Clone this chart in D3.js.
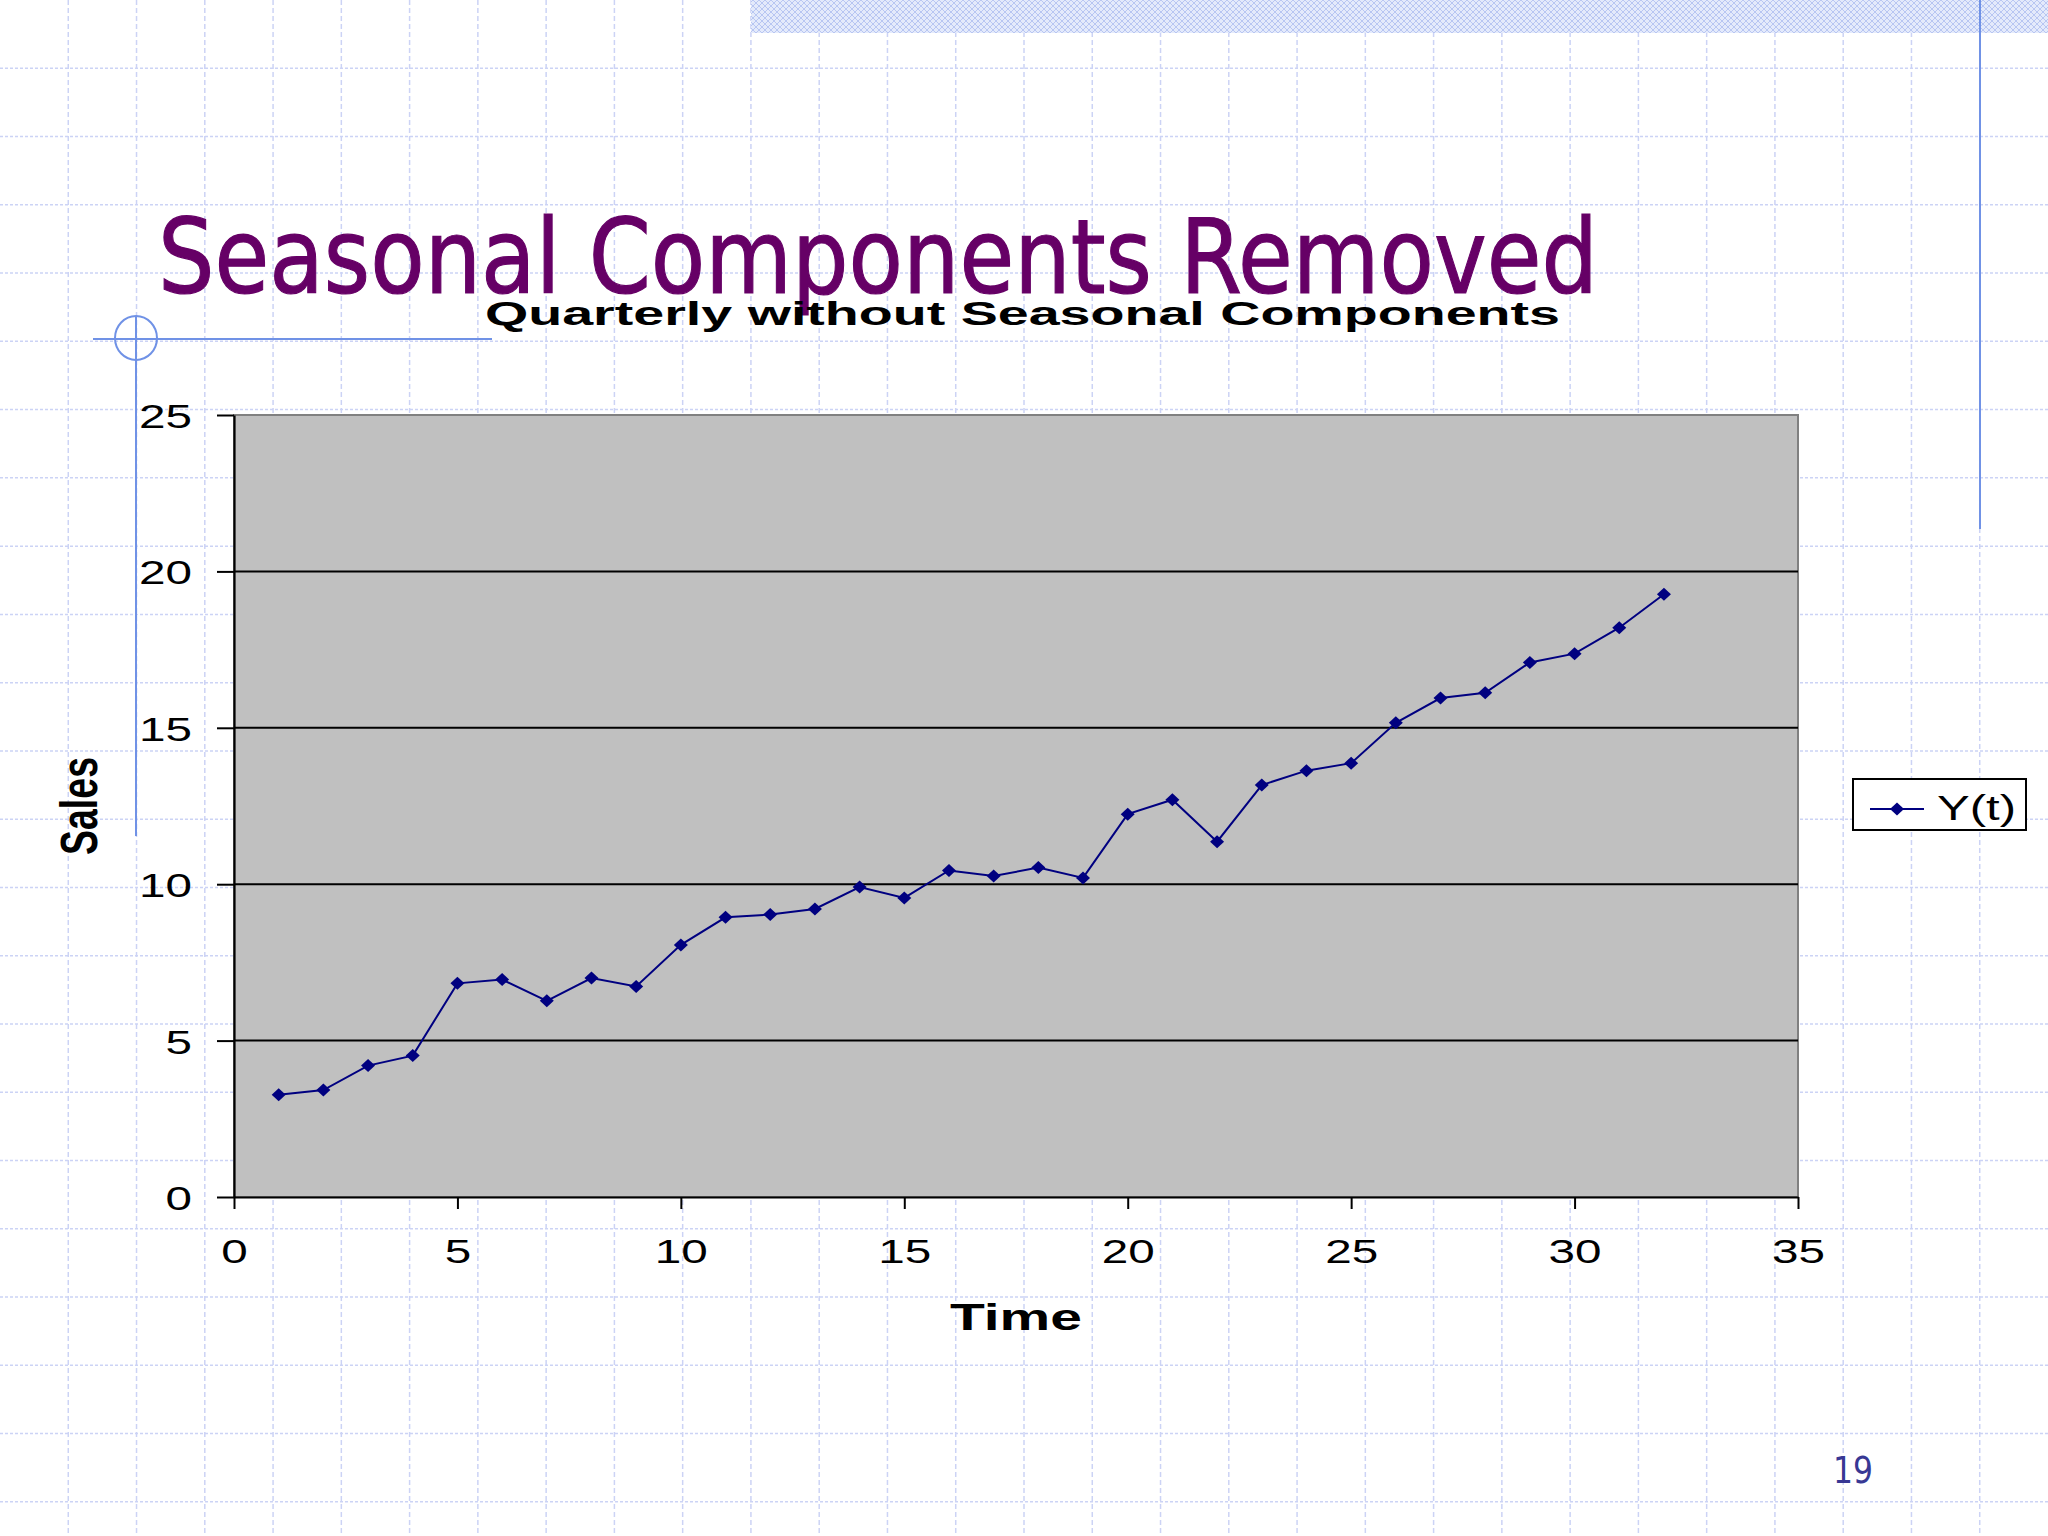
<!DOCTYPE html>
<html>
<head>
<meta charset="utf-8">
<script src="https://cdn.jsdelivr.net/npm/d3@7"></script>
<style>
  html, body { margin: 0; padding: 0; background: #ffffff; }
  svg { display: block; }
</style>
</head>
<body>
<svg id="chart" width="2048" height="1536"></svg>
<script>
// ---------- data ----------
const times = [1,2,3,4,5,6,7,8,9,10,11,12,13,14,15,16,17,18,19,20,21,22,23,24,25,26,27,28,29,30,31,32];
const sales = [3.27,3.42,4.20,4.52,6.83,6.95,6.27,7.00,6.73,8.06,8.94,9.03,9.21,9.91,9.56,10.44,10.26,10.53,10.20,12.24,12.70,11.36,13.17,13.63,13.87,15.16,15.95,16.12,17.09,17.37,18.20,19.27];
const xTicks = [0,5,10,15,20,25,30,35];
const yTicks = [0,5,10,15,20,25];
const gridTicks = [5,10,15,20];
const slideTitle = "Seasonal Components Removed";
const chartTitle = "Quarterly without Seasonal Components";
const xLabel = "Time";
const yLabel = "Sales";
const seriesName = "Y(t)";
const pageNumber = "19";

// ---------- setup ----------
const svg = d3.select("#chart");
const W = 2048, H = 1536;
const defs = svg.append("defs");
const pat = defs.append("pattern").attr("id", "band").attr("width", 6).attr("height", 6)
  .attr("patternUnits", "userSpaceOnUse");
pat.append("rect").attr("width", 6).attr("height", 6).attr("fill", "#e4eafb");
pat.append("path").attr("d", "M0,3 L3,0 L6,3 L3,6 Z").attr("fill", "none").attr("stroke", "#b8c6f2").attr("stroke-width", 1);

// background slide grid
svg.append("rect").attr("width", W).attr("height", H).attr("fill", "#ffffff");
const step = 2048 / 30;
const bg = svg.append("g").attr("stroke", "#ccd3f5").attr("stroke-width", 1.5);
d3.range(1, 30).forEach(k => {
  bg.append("line").attr("x1", k * step).attr("x2", k * step).attr("y1", 0).attr("y2", H)
    .attr("stroke-dasharray", "5,3");
});
d3.range(1, 23).forEach(k => {
  bg.append("line").attr("y1", k * step).attr("y2", k * step).attr("x1", 0).attr("x2", W)
    .attr("stroke-dasharray", "3,2");
});

// top patterned band
svg.append("rect").attr("x", 751).attr("y", 0).attr("width", W - 751).attr("height", 33).attr("fill", "url(#band)");
// right vertical decoration line
svg.append("line").attr("x1", 1980).attr("x2", 1980).attr("y1", 0).attr("y2", 529)
  .attr("stroke", "#7092e6").attr("stroke-width", 2);
// left decoration
svg.append("line").attr("x1", 93).attr("x2", 492).attr("y1", 339).attr("y2", 339)
  .attr("stroke", "#7092e6").attr("stroke-width", 2);
svg.append("line").attr("x1", 136).attr("x2", 136).attr("y1", 316).attr("y2", 836)
  .attr("stroke", "#7092e6").attr("stroke-width", 2);
svg.append("ellipse").attr("cx", 136).attr("cy", 338).attr("rx", 21).attr("ry", 22)
  .attr("fill", "none").attr("stroke", "#7092e6").attr("stroke-width", 2);

// slide title
svg.append("text").attr("x", 158).attr("y", 293)
  .attr("font-family", "'DejaVu Sans', Verdana, sans-serif").attr("font-size", 103)
  .attr("fill", "#660066").attr("stroke", "#660066").attr("stroke-width", 1.2)
  .attr("textLength", 1440).attr("lengthAdjust", "spacingAndGlyphs")
  .text(slideTitle);

// chart title
svg.append("text").attr("x", 485).attr("y", 325)
  .attr("font-family", "'Liberation Sans', Arial, sans-serif").attr("font-weight", "bold")
  .attr("font-size", 32.5).attr("fill", "#000")
  .attr("textLength", 1075).attr("lengthAdjust", "spacingAndGlyphs")
  .text(chartTitle);

// ---------- scales ----------
const x = d3.scaleLinear().domain([0, 35]).range([234, 1798]);
const y = d3.scaleLinear().domain([0, 25]).range([1197, 415]);

// plot area
svg.append("rect").attr("x", x(0)).attr("y", y(25)).attr("width", x(35) - x(0)).attr("height", y(0) - y(25))
  .attr("fill", "#c0c0c0").attr("stroke", "#808080").attr("stroke-width", 2);

// horizontal gridlines
svg.append("g").selectAll("line").data(gridTicks).join("line")
  .attr("x1", x(0)).attr("x2", x(35)).attr("y1", d => y(d)).attr("y2", d => y(d))
  .attr("stroke", "#000").attr("stroke-width", 2);

// axes
const tickFont = "'Liberation Sans', Arial, sans-serif";
const yAxis = svg.append("g").attr("transform", `translate(${x(0)},0)`)
  .call(d3.axisLeft(y).tickValues(yTicks).tickSize(17).tickSizeOuter(0).tickPadding(25).tickFormat(d3.format("d")));
const xAxis = svg.append("g").attr("transform", `translate(0,${y(0)})`)
  .call(d3.axisBottom(x).tickValues(xTicks).tickSize(12).tickSizeOuter(0).tickPadding(29.6).tickFormat(d3.format("d")));
[yAxis, xAxis].forEach(g => {
  g.select(".domain").attr("stroke", "#000").attr("stroke-width", 2.2);
  g.selectAll(".tick line").attr("stroke", "#000").attr("stroke-width", 2);
  g.selectAll(".tick text").attr("font-family", tickFont).attr("font-size", 34).attr("fill", "#000")
    .attr("textLength", function() { return 26.5 * this.textContent.length; })
    .attr("lengthAdjust", "spacingAndGlyphs");
});
yAxis.selectAll(".tick text").attr("dy", "0.37em");

// series line
svg.append("path").datum(times.map((t, i) => [t, sales[i]]))
  .attr("fill", "none").attr("stroke", "#000080").attr("stroke-width", 2)
  .attr("d", d3.line().x(d => x(d[0])).y(d => y(d[1])));

// markers
const diamond = "M0,-6.5 L7,0 L0,6.5 L-7,0 Z";
svg.append("g").selectAll("path").data(times).join("path")
  .attr("transform", (t, i) => `translate(${x(t)},${y(sales[i])})`)
  .attr("d", diamond).attr("fill", "#000080");

// axis titles
svg.append("text").attr("x", (x(0) + x(35)) / 2).attr("y", 1330).attr("text-anchor", "middle")
  .attr("font-family", tickFont).attr("font-weight", "bold").attr("font-size", 36)
  .attr("textLength", 132).attr("lengthAdjust", "spacingAndGlyphs").text(xLabel);
svg.append("text").attr("transform", "translate(97,806) rotate(-90)").attr("text-anchor", "middle")
  .attr("font-family", tickFont).attr("font-weight", "bold").attr("font-size", 52)
  .attr("textLength", 98).attr("lengthAdjust", "spacingAndGlyphs").text(yLabel);

// legend
const lg = svg.append("g");
lg.append("rect").attr("x", 1853).attr("y", 779).attr("width", 173).attr("height", 51)
  .attr("fill", "#fff").attr("stroke", "#000").attr("stroke-width", 2);
lg.append("line").attr("x1", 1870).attr("x2", 1924).attr("y1", 809).attr("y2", 809)
  .attr("stroke", "#000080").attr("stroke-width", 2);
lg.append("path").attr("transform", "translate(1897,809)").attr("d", diamond).attr("fill", "#000080");
lg.append("text").attr("x", 1937).attr("y", 820).attr("font-family", tickFont).attr("font-size", 35)
  .attr("textLength", 79).attr("lengthAdjust", "spacingAndGlyphs").text(seriesName);

// page number
svg.append("text").attr("x", 1833).attr("y", 1483)
  .attr("font-family", "'DejaVu Sans', Verdana, sans-serif").attr("font-size", 38)
  .attr("fill", "#383894").attr("textLength", 40).attr("lengthAdjust", "spacingAndGlyphs").text(pageNumber);
</script>
</body>
</html>
